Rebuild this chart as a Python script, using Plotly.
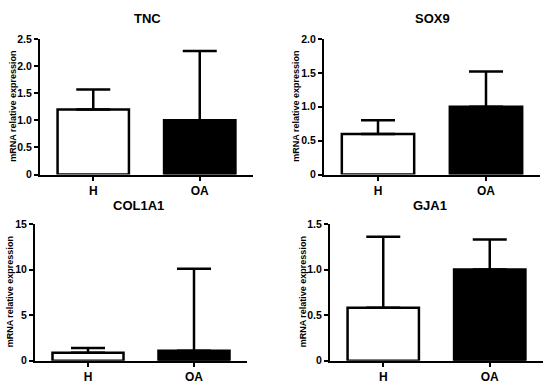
import plotly.graph_objects as go

categories = ["H", "OA"]
genes = ["TNC", "SOX9", "COL1A1", "GJA1"]
means = {
    "TNC": [1.2, 1.0],
    "SOX9": [0.6, 1.0],
    "COL1A1": [0.87, 1.08],
    "GJA1": [0.58, 1.0],
}
errors_up = {
    "TNC": [0.37, 1.28],
    "SOX9": [0.2, 0.52],
    "COL1A1": [0.53, 9.02],
    "GJA1": [0.78, 0.33],
}
y_ticks = {
    "TNC": [0, 0.5, 1.0, 1.5, 2.0, 2.5],
    "SOX9": [0, 0.5, 1.0, 1.5, 2.0],
    "COL1A1": [0, 5, 10, 15],
    "GJA1": [0, 0.5, 1.0, 1.5],
}
y_ticktext = {
    "TNC": ["0", "0.5", "1.0", "1.5", "2.0", "2.5"],
    "SOX9": ["0", "0.5", "1.0", "1.5", "2.0"],
    "COL1A1": ["0", "5", "10", "15"],
    "GJA1": ["0", "0.5", "1.0", "1.5"],
}
y_label = "mRNA relative expression"

W, H = 550, 387
# pixel boxes: x0, x1, ytop, ybottom ; title pos ; ylabel x
boxes = {
    "TNC": (40, 253, 34, 174, 147, 13, 13),
    "SOX9": (324, 540, 34, 174, 432, 13, 296),
    "COL1A1": (35, 247, 225, 366, 138, 206, 10),
    "GJA1": (330, 543, 225, 366, 430, 206, 303),
}
colors = ["white", "black"]
FONT = "Liberation Sans, Arial, sans-serif"

fig = go.Figure()
layout = {}
annotations = []
for i, g in enumerate(genes, start=1):
    x0, x1, yt, yb, tx, ty, lx = boxes[g]
    xa = "x" if i == 1 else f"x{i}"
    ya = "y" if i == 1 else f"y{i}"
    fig.add_trace(go.Bar(
        x=categories, y=means[g], xaxis=xa, yaxis=ya,
        width=0.67,
        marker=dict(color=colors, line=dict(color="black", width=2.5)),
        error_y=dict(type="data", symmetric=False, array=errors_up[g],
                     arrayminus=[0, 0], thickness=2.5, width=17, color="black"),
        showlegend=False,
    ))
    top = y_ticks[g][-1]
    layout["xaxis" if i == 1 else f"xaxis{i}"] = dict(
        domain=[x0 / W, x1 / W], anchor=ya, range=[-0.5, 1.5],
        showline=True, linewidth=2, linecolor="black",
        ticks="outside", ticklen=4, tickwidth=2, tickcolor="black",
        showgrid=False, zeroline=False, fixedrange=True,
        tickfont=dict(family=FONT, size=12, color="black", weight="bold"),
    )
    layout["yaxis" if i == 1 else f"yaxis{i}"] = dict(
        domain=[1 - yb / H, 1 - yt / H], anchor=xa, range=[0, top],
        showline=True, linewidth=2, linecolor="black",
        ticks="outside", ticklen=4, tickwidth=2, tickcolor="black",
        tickvals=y_ticks[g], ticktext=y_ticktext[g],
        showgrid=False, zeroline=False, fixedrange=True,
        tickfont=dict(family=FONT, size=10.5, color="black", weight="bold"),
    )
    annotations.append(dict(
        text=g, x=tx / W, y=1 - ty / H, xref="paper", yref="paper",
        showarrow=False, xanchor="center", yanchor="middle",
        font=dict(family=FONT, size=13, color="black", weight="bold"),
    ))
    annotations.append(dict(
        text=y_label, x=lx / W, y=1 - ((yt + yb) / 2) / H, xref="paper", yref="paper",
        showarrow=False, xanchor="center", yanchor="middle", textangle=-90,
        font=dict(family=FONT, size=9, color="black", weight="bold"),
    ))

fig.update_layout(
    width=W, height=H, margin=dict(l=0, r=0, t=0, b=0),
    paper_bgcolor="white", plot_bgcolor="white",
    annotations=annotations, **layout,
)
fig.write_html(
    "out.html",
    config={"displayModeBar": False},
    post_script="document.body.style.margin='0';document.body.style.overflow='hidden';",
)
